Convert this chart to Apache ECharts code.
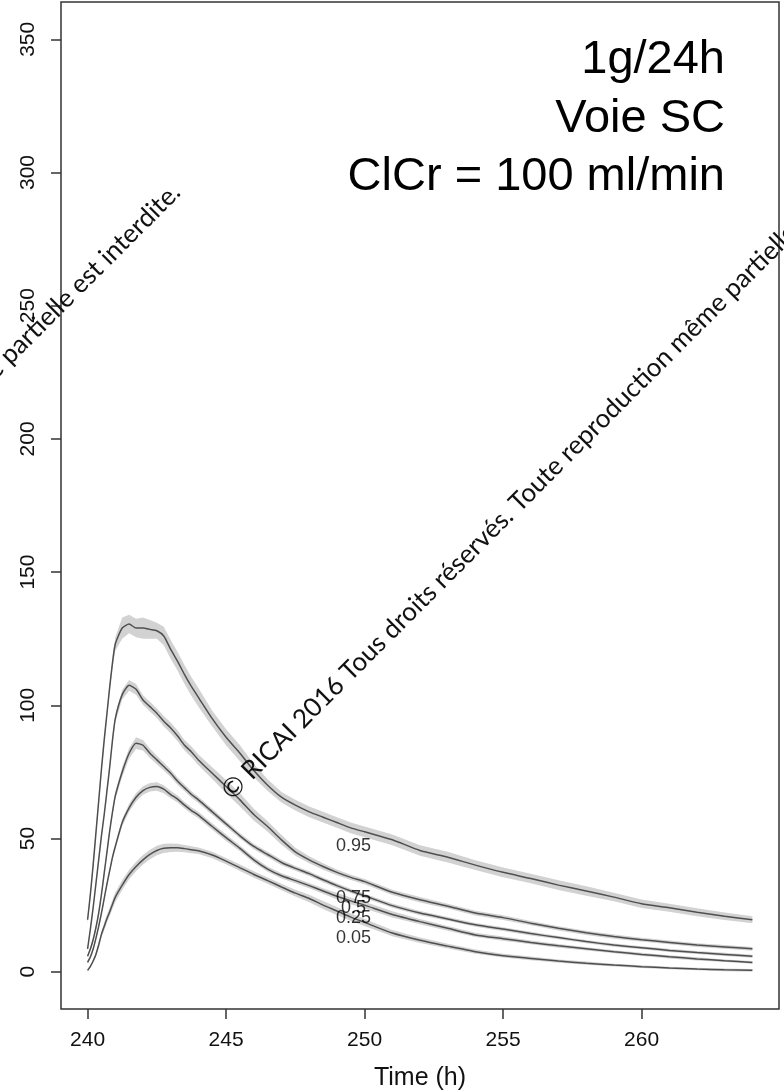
<!DOCTYPE html>
<html>
<head>
<meta charset="utf-8">
<title>1g/24h Voie SC</title>
<script src="https://cdn.jsdelivr.net/npm/echarts/dist/echarts.min.js"></script>
<style>
  html, body { margin: 0; padding: 0; background: #fff; }
  #chart { width: 784px; height: 1091px; }
</style>
</head>
<body>
<div id="chart"></div>
<script>
// Sampling times (h), shared by every quantile curve
const times = [240, 240.1, 240.2, 240.3, 240.4, 240.5, 240.6, 240.7, 240.8, 240.9,
  241, 241.25, 241.5, 241.75, 242, 242.25, 242.5, 242.75, 243, 243.25,
  243.5, 243.75, 244, 244.5, 245, 245.5, 246, 246.5, 247, 247.5,
  248, 248.5, 249, 249.5, 250, 251, 252, 253, 254, 255,
  256, 257, 258, 259, 260, 261, 262, 263, 264];

// Concentration quantiles (median of simulations)
const q95 = [19.5, 29, 40, 52, 64, 76, 87, 97, 107, 116,
  123, 129, 130.5, 129, 129, 128.5, 128, 126, 121, 116.5,
  111.5, 107, 103, 95, 88, 82, 75.5, 70, 65.5, 62.5,
  60, 58, 56, 54, 52.5, 49.5, 45.5, 43, 40, 37.3,
  35, 32.5, 30.3, 28, 25.5, 24, 22.3, 20.8, 19.5];
const q75 = [8.6, 16, 24, 33, 42, 51, 59, 68, 77, 87,
  95, 104, 107.5, 106, 102, 99.5, 97, 94, 91.5, 88.5,
  85, 82.5, 79.5, 74.5, 69.5, 64.5, 59, 54.5, 49.5, 45,
  42, 39.5, 37.3, 35.4, 33.8, 29.8, 27, 24.6, 22, 20.3,
  18.2, 16.3, 14.6, 13.2, 12, 11, 10, 9.3, 8.6];
const q50 = [5.8, 8.5, 12, 16.5, 22, 29, 37, 45, 53, 60,
  66, 75, 82, 85.8, 85, 82, 79.5, 77, 74.5, 71.5,
  69, 66.5, 64.5, 60, 55.5, 51, 47, 44, 41, 38.8,
  36.8, 34.5, 32.3, 30.3, 28.5, 24.8, 22, 19.8, 17.6, 16,
  14.3, 12.8, 11.3, 10, 9, 8, 7.2, 6.5, 5.8];
const q25 = [3.5, 5.5, 8.5, 12.5, 17, 22, 27.5, 33, 38, 43,
  47, 56, 61.5, 65.5, 68, 69.2, 69.5, 68.5, 66.5, 64.8,
  62.5, 60.5, 58.8, 54.5, 50.3, 46.3, 42, 38.5, 36, 34.2,
  32.3, 30.3, 28.3, 26.6, 25, 21.5, 18.8, 16.3, 13.8, 12.4,
  11, 9.7, 8.6, 7.5, 6.5, 5.6, 4.8, 4.1, 3.5];
const q05 = [0.5, 2, 4, 6.5, 10, 14, 17, 20, 22.5, 25.3,
  28, 32.5, 36.5, 39.5, 42, 44, 45.5, 46.3, 46.5, 46.5,
  46.2, 45.8, 45.4, 43.8, 41.5, 39, 36.5, 34.2, 31.8, 29.5,
  27.5, 25, 22.8, 20.5, 18.5, 14.5, 11.8, 9.6, 7.5, 6,
  5, 4, 3.2, 2.5, 1.9, 1.4, 1, 0.7, 0.5];

// Half-width of the confidence band around each quantile curve
const hw95 = [1.5, 1.5, 1.5, 1.5, 1.5, 1.5, 1.5, 1.5, 1.5, 2,
  2.5, 4, 3.5, 3.5, 4, 3.5, 3, 3.5, 3.5, 3.5,
  3.5, 3.5, 3.5, 3, 3, 3, 2.5, 2.2, 2, 2,
  2, 2, 2, 2, 2, 2, 2, 2, 1.8, 1.8,
  1.8, 1.8, 1.8, 1.6, 1.6, 1.5, 1.5, 1.4, 1.3];
const hw75 = [0.8, 0.8, 0.8, 0.8, 0.8, 0.8, 0.8, 0.8, 1, 1.2,
  1.5, 1.8, 2, 2, 1.8, 1.8, 1.8, 2, 2, 2,
  2, 2, 2, 2.2, 2.5, 2.5, 2.2, 2, 1.8, 1.5,
  1.3, 1.2, 1.1, 1, 1, 1, 1, 0.9, 0.9, 0.9,
  0.8, 0.8, 0.8, 0.8, 0.7, 0.7, 0.7, 0.7, 0.7];
const hw50 = [0.7, 0.7, 0.7, 0.7, 0.7, 0.8, 0.8, 0.9, 1, 1.2,
  1.4, 1.8, 2, 2.2, 2, 1.8, 1.6, 1.5, 1.4, 1.3,
  1.3, 1.2, 1.2, 1.2, 1.1, 1, 1, 1, 1, 0.9,
  0.9, 0.9, 0.9, 0.8, 0.8, 0.8, 0.8, 0.7, 0.7, 0.7,
  0.7, 0.6, 0.6, 0.6, 0.6, 0.6, 0.6, 0.6, 0.6];
const hw25 = [0.6, 0.6, 0.6, 0.7, 0.7, 0.8, 0.8, 0.9, 1, 1,
  1.1, 1.3, 1.5, 1.6, 1.6, 1.6, 1.6, 1.5, 1.4, 1.3,
  1.2, 1.2, 1.2, 1.2, 1.2, 1.1, 1.1, 1, 1, 1,
  1, 1, 1.2, 1.3, 1.3, 1.2, 1, 0.9, 0.8, 0.8,
  0.7, 0.7, 0.6, 0.6, 0.6, 0.6, 0.6, 0.5, 0.5];
const hw05 = [0.5, 0.5, 0.6, 0.8, 1, 1.2, 1.4, 1.5, 1.6, 1.7,
  1.8, 1.8, 1.8, 1.8, 1.8, 1.8, 1.8, 1.7, 1.6, 1.5,
  1.4, 1.3, 1.2, 1.2, 1.2, 1.2, 1.2, 1.2, 1.2, 1.3,
  1.4, 1.5, 1.5, 1.4, 1.3, 1.2, 1, 0.9, 0.8, 0.7,
  0.7, 0.6, 0.6, 0.5, 0.5, 0.5, 0.5, 0.5, 0.5];

const quantileNames = ['0.95', '0.75', '0.5', '0.25', '0.05'];
const quantileCurves = [q95, q75, q50, q25, q05];
const quantileBands = [hw95, hw75, hw50, hw25, hw05];

// Quantile labels written beside the curves
const labelTimes = [249.6, 249.6, 249.6, 249.6, 249.6];
const labelLevels = [47, 27.7, 24, 20.2, 12.7];

// Axis ticks
const xTicks = [240, 245, 250, 255, 260];
const yTicks = [0, 50, 100, 150, 200, 250, 300, 350];

const annotationLines = ['1g/24h', 'Voie SC', 'ClCr = 100 ml/min'];
const watermark = '\u00A9 RICAI 2016 Tous droits r\u00E9serv\u00E9s. Toute reproduction m\u00EAme partielle est interdite.';

const FONT = '"Liberation Sans", Arial, Helvetica, sans-serif';
const MARK_FONT = 'Lato, "Open Sans", sans-serif';
const LINE_COLOR = '#4f4f4f';
const BAND_COLOR = '#d2d2d2';

const series = [];

// Confidence bands: one filled polygon per quantile, upper edge then lower edge back
quantileCurves.forEach((curve, k) => {
  const hw = quantileBands[k];
  series.push({
    type: 'custom', coordinateSystem: 'cartesian2d', silent: true, z: 1,
    data: [[times[0], curve[0]]],
    renderItem: (params, api) => {
      const upper = times.map((t, i) => api.coord([t, curve[i] + hw[i]]));
      const lower = times.map((t, i) => api.coord([t, curve[i] - hw[i]])).reverse();
      return {
        type: 'polygon',
        shape: { points: upper.concat(lower) },
        style: { fill: BAND_COLOR, stroke: null }
      };
    }
  });
});

// Quantile curves
quantileCurves.forEach((curve, k) => {
  series.push({
    type: 'line', name: quantileNames[k], silent: true,
    showSymbol: false, smooth: 0.2, z: 3,
    lineStyle: { color: LINE_COLOR, width: 1.5 },
    data: times.map((t, i) => [t, curve[i]])
  });
});

// Quantile labels
series.push({
  type: 'scatter', silent: true, z: 5,
  symbolSize: 1,
  itemStyle: { color: 'rgba(0,0,0,0)' },
  label: {
    show: true, position: 'inside', formatter: '{b}',
    fontFamily: FONT, fontSize: 18, color: '#000'
  },
  data: quantileNames.map((n, k) => ({ name: n, value: [labelTimes[k], labelLevels[k]] }))
});

const axisText = { fontFamily: FONT, fontSize: 21, color: '#111' };

const option = {
  animation: false,
  backgroundColor: '#ffffff',
  grid: {
    left: 61, right: 5, top: 2, bottom: 82,
    outerBoundsMode: 'none', containLabel: false,
    show: true, borderColor: '#333', borderWidth: 1.5, backgroundColor: 'transparent'
  },
  xAxis: {
    type: 'value', min: 239.04, max: 264.96,
    splitLine: { show: false },
    axisLine: { show: false, onZero: false },
    axisTick: { show: true, inside: false, length: 10, lineStyle: { color: '#333', width: 1.5 }, customValues: xTicks },
    axisLabel: Object.assign({ customValues: xTicks, margin: 21 }, axisText),
    name: 'Time (h)', nameLocation: 'middle', nameGap: 57,
    nameTextStyle: { fontFamily: FONT, fontSize: 25, color: '#111' }
  },
  yAxis: {
    type: 'value', min: -14, max: 364,
    splitLine: { show: false },
    axisLine: { show: false, onZero: false },
    axisTick: { show: true, inside: false, length: 10, lineStyle: { color: '#333', width: 1.5 }, customValues: yTicks },
    axisLabel: Object.assign({ customValues: yTicks, margin: 22, rotate: 90 }, axisText)
  },
  graphic: [
    {
      type: 'text', x: 226, y: 795, rotation: Math.PI / 4, z: 100, silent: true,
      style: { text: watermark, fontFamily: MARK_FONT, fontSize: 26, fill: '#111', align: 'left', verticalAlign: 'middle' }
    },
    {
      type: 'text', x: 176, y: 188, rotation: Math.PI / 4, z: 100, silent: true,
      style: { text: watermark, fontFamily: MARK_FONT, fontSize: 26, fill: '#111', align: 'right', verticalAlign: 'middle' }
    }
  ].concat(annotationLines.map((txt, i) => ({
    type: 'text', x: 725, y: [60, 119, 177][i], z: 100, silent: true,
    style: { text: txt, fontFamily: FONT, fontSize: 47, fill: '#000', align: 'right', verticalAlign: 'middle' }
  }))),
  series: series
};

const chart = echarts.init(document.getElementById('chart'), null, { renderer: 'canvas' });
chart.setOption(option);
</script>
</body>
</html>
